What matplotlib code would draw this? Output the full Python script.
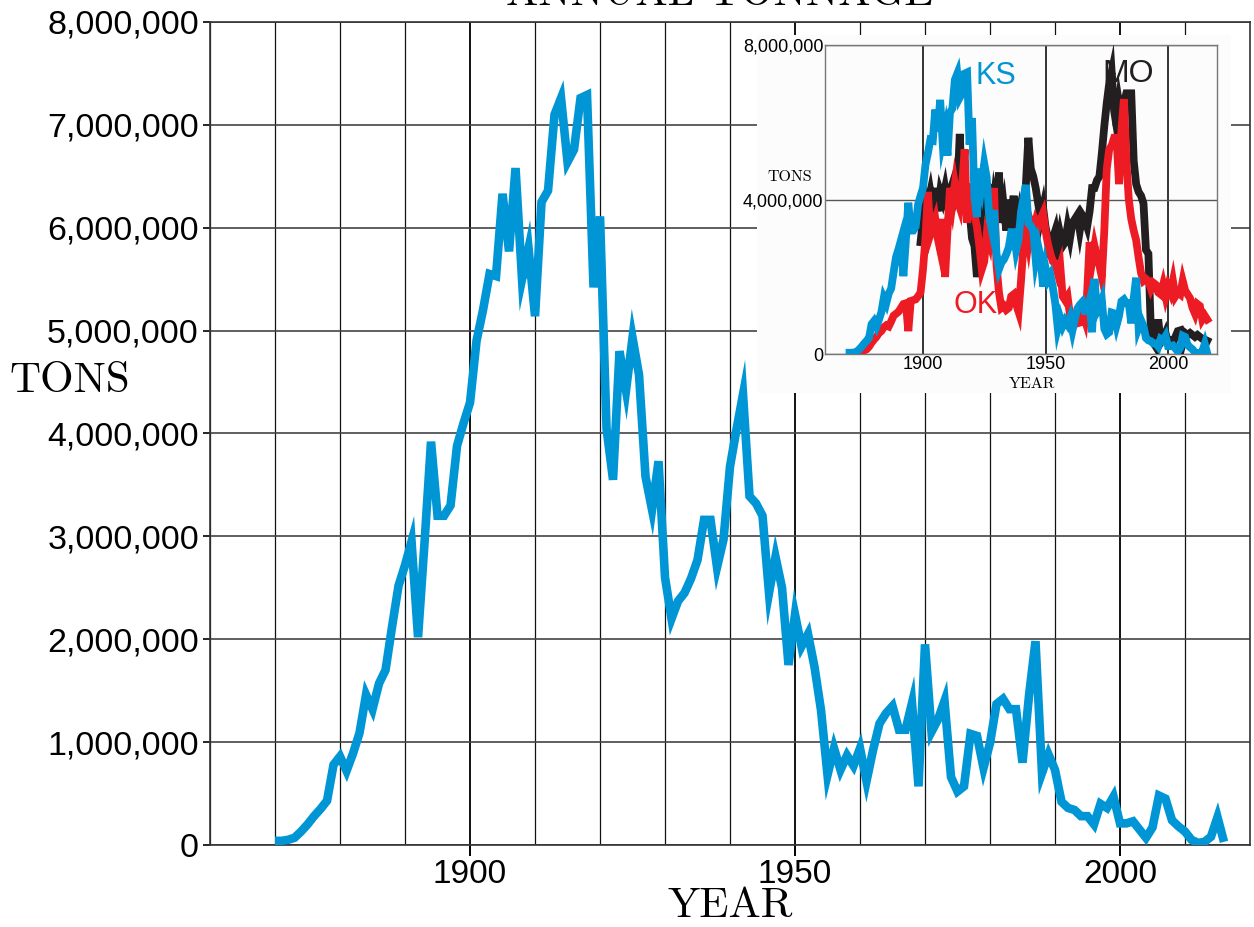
import numpy as np
import matplotlib
matplotlib.use('Agg')
import matplotlib.pyplot as plt
from matplotlib.ticker import MultipleLocator, FuncFormatter
from matplotlib.patches import Rectangle

# annual tonnage, millions of tons
ks_start = 1870
ks_tons = [0.04, 0.04, 0.05, 0.07, 0.13, 0.20, 0.28, 0.35, 0.43, 0.78,
           0.86, 0.72, 0.89, 1.09, 1.46, 1.32, 1.57, 1.70, 2.12, 2.52,
           2.72, 2.95, 2.02, 2.94, 3.92, 3.20, 3.20, 3.30, 3.88, 4.10,
           4.30, 4.90, 5.20, 5.55, 5.53, 6.33, 5.77, 6.58, 5.50, 5.80,
           5.14, 6.25, 6.36, 7.10, 7.26, 6.64, 6.76, 7.26, 7.29, 5.42,
           6.11, 4.05, 3.55, 4.80, 4.42, 4.93, 4.57, 3.58, 3.26, 3.73,
           2.60, 2.20, 2.37, 2.45, 2.59, 2.77, 3.16, 3.16, 2.70, 2.97,
           3.68, 4.04, 4.38, 3.39, 3.32, 3.20, 2.45, 2.80, 2.50, 1.75,
           2.24, 1.93, 2.05, 1.73, 1.31, 0.68, 0.94, 0.73, 0.87, 0.77,
           0.94, 0.62, 0.92, 1.18, 1.28, 1.35, 1.12, 1.12, 1.38, 0.57,
           1.95, 1.10, 1.22, 1.40, 0.66, 0.52, 0.57, 1.08, 1.06, 0.75,
           0.99, 1.37, 1.42, 1.32, 1.32, 0.80, 1.45, 1.98, 0.70, 0.88,
           0.73, 0.42, 0.36, 0.34, 0.28, 0.28, 0.20, 0.40, 0.36, 0.47,
           0.21, 0.21, 0.23, 0.15, 0.07, 0.17, 0.48, 0.45, 0.24, 0.18,
           0.13, 0.05, 0.02, 0.03, 0.08, 0.27, 0.03]

ok_start = 1873
ok_tons = [0.02, 0.03, 0.05, 0.10, 0.13, 0.20, 0.30,
           0.38, 0.45, 0.55, 0.60, 0.70, 0.75, 0.72, 0.85, 1.00, 1.05,
           1.10, 1.20, 1.30, 1.32, 0.60, 1.38, 1.40, 1.42, 1.50, 1.60,
           2.20, 3.00, 4.20, 3.10, 3.30, 3.50, 3.00, 2.70, 3.50, 2.00,
           3.20, 4.30, 3.90, 4.40, 4.00, 3.80, 4.40, 5.30, 3.40, 4.00,
           4.40, 3.60, 3.30, 2.80, 2.20, 2.40, 3.10, 2.90, 3.60, 4.30,
           2.30, 1.60, 1.20, 1.25, 1.15, 1.20, 1.50, 1.55, 1.30, 1.10,
           1.90, 2.80, 3.30, 2.90, 3.40, 3.20, 3.45, 3.30, 3.50, 3.65,
           3.20, 2.85, 2.60, 2.40, 2.35, 2.10, 2.30, 1.50, 1.40, 1.50,
           1.00, 0.90, 0.85, 0.80, 0.82, 1.10, 0.90, 1.60, 2.90, 2.40,
           2.80, 2.50, 2.30, 2.00, 3.20, 4.80, 5.30, 5.40, 5.60, 5.60,
           4.40, 5.80, 6.60, 5.00, 4.00, 3.50, 3.20, 2.95, 2.50, 2.10,
           1.90, 1.95, 1.90, 1.70, 1.85, 1.80, 1.60, 1.55, 1.80, 1.50,
           1.75, 1.60, 1.90, 1.50, 1.60, 1.55, 1.90, 1.65, 1.55, 1.45,
           1.20, 1.05, 1.30, 1.25, 0.90, 1.00, 0.90]

mo_start = 1899
mo_tons = [2.90,
           3.50, 4.10, 3.90, 4.20, 3.80, 4.30, 3.70, 4.20, 4.00, 4.30,
           3.90, 4.20, 4.40, 4.00, 4.20, 5.70, 4.20, 4.50, 4.00, 3.70,
           3.00, 2.80, 2.00, 2.50, 3.20, 4.40, 3.80, 4.40, 3.40, 4.00,
           3.60, 4.70, 3.40, 3.80, 3.20, 4.00, 3.60, 4.10, 3.30, 3.60,
           3.00, 3.80, 4.40, 5.60, 4.80, 4.60, 4.30, 3.90, 3.50, 3.80,
           3.30, 3.00, 2.50, 3.00, 3.20, 2.70, 3.10, 2.80, 2.90, 3.30,
           3.00, 3.40, 3.50, 3.60, 3.20, 3.60, 3.50, 3.30, 3.70, 4.30,
           4.30, 4.50, 4.60, 5.20, 5.90, 6.50, 7.00, 7.30, 6.30, 5.90,
           6.50, 6.10, 6.50, 6.75, 6.75, 6.75, 5.00, 4.40, 4.20, 4.10,
           3.90, 2.70, 2.60, 0.60, 0.30, 0.20, 0.90, 0.30, 0.40, 0.55,
           0.30, 0.35, 0.30, 0.45, 0.60, 0.62, 0.30, 0.55, 0.50, 0.55,
           0.50, 0.45, 0.50, 0.45, 0.40, 0.38, 0.35]

ks_years = np.arange(ks_start, ks_start + len(ks_tons))
ok_years = np.arange(ok_start, ok_start + len(ok_tons))
mo_years = np.arange(mo_start, mo_start + len(mo_tons))
ks = np.array(ks_tons) * 1e6
ok = np.array(ok_tons) * 1e6
mo = np.array(mo_tons) * 1e6

blue = '#0096d6'
red = '#ed1c24'
black = '#231f20'
serif = 'cmr10'
sans = ['Liberation Sans', 'DejaVu Sans']

commas = FuncFormatter(lambda v, p: '{:,.0f}'.format(v))

fig = plt.figure(figsize=(12.54, 9.27), dpi=100)
ax = fig.add_axes([0.1675, 0.0885, 0.8293, 0.8878])

ax.plot(ks_years, ks, color=blue, lw=6.2, solid_joinstyle='miter',
        solid_capstyle='butt', zorder=3)

ax.set_xlim(1860, 2020)
ax.set_ylim(0, 8e6)
ax.xaxis.set_major_locator(MultipleLocator(50))
ax.xaxis.set_minor_locator(MultipleLocator(10))
ax.yaxis.set_major_locator(MultipleLocator(1e6))
ax.yaxis.set_major_formatter(commas)
ax.grid(which='minor', axis='x', color='#111111', lw=0.9)
ax.grid(which='major', axis='x', color='#111111', lw=1.4)
ax.grid(which='major', axis='y', color='#444444', lw=1.2)
ax.set_axisbelow(True)
ax.tick_params(axis='x', which='major', direction='out', length=8,
               width=1.4, pad=2, labelsize=24)
ax.tick_params(axis='x', which='minor', length=0)
ax.tick_params(axis='y', direction='out', length=5, width=1.2,
               pad=3, labelsize=24.5)
for lab in ax.get_xticklabels() + ax.get_yticklabels():
    lab.set_family(sans)
for s in ax.spines.values():
    s.set_color('#333333')
    s.set_linewidth(1.2)

fig.text(0.0558, 0.589, 'TONS', family=serif, fontsize=31,
         ha='center', va='center')
fig.text(0.582, 0.022, 'YEAR', family=serif, fontsize=31,
         ha='center', va='center')
# title sits mostly above the top edge, as in the source figure
fig.text(0.574, 0.9946, 'ANNUAL TONNAGE', family=serif, fontsize=31,
         ha='center', va='baseline')

# inset with the three states
fig.patches.append(Rectangle((0.6037, 0.576), 0.378, 0.386,
                             transform=fig.transFigure, facecolor='#fcfcfc',
                             edgecolor='none', zorder=2))
ins = fig.add_axes([0.6579, 0.6178, 0.3126, 0.3337], zorder=3)
ins.set_facecolor('#fcfcfc')
ins.plot(mo_years, mo, color=black, lw=5.6, solid_joinstyle='miter', zorder=3)
ins.plot(ok_years, ok, color=red, lw=5.6, solid_joinstyle='miter', zorder=4)
ins.plot(ks_years, ks, color=blue, lw=5.6, solid_joinstyle='miter', zorder=5)
ins.set_xlim(1860, 2020)
ins.set_ylim(0, 8e6)
ins.set_xticks([1900, 1950, 2000])
ins.set_yticks([0, 4e6, 8e6])
ins.yaxis.set_major_formatter(commas)
ins.grid(axis='x', color='#111111', lw=1.2)
ins.grid(axis='y', color='#555555', lw=1.0)
ins.set_axisbelow(True)
ins.tick_params(length=0, labelsize=13, pad=1)
for lab in ins.get_xticklabels() + ins.get_yticklabels():
    lab.set_family(sans)
for s in ins.spines.values():
    s.set_color('#777777')
    s.set_linewidth(1.0)

fig.text(0.630, 0.809, 'TONS', family=serif, fontsize=11.5,
         ha='center', va='center')
fig.text(0.823, 0.586, 'YEAR', family=serif, fontsize=11.5,
         ha='center', va='center')
ins.text(1921.3, 7.2e6, 'KS', color=blue, fontsize=22, family=sans,
         va='center', ha='left', zorder=6)
ins.text(1973.2, 7.25e6, 'MO', color=black, fontsize=23, family=sans,
         va='center', ha='left', zorder=6)
ins.text(1912.3, 1.28e6, 'OK', color=red, fontsize=22, family=sans,
         va='center', ha='left', zorder=6)

fig.savefig('out.png', dpi=100)
